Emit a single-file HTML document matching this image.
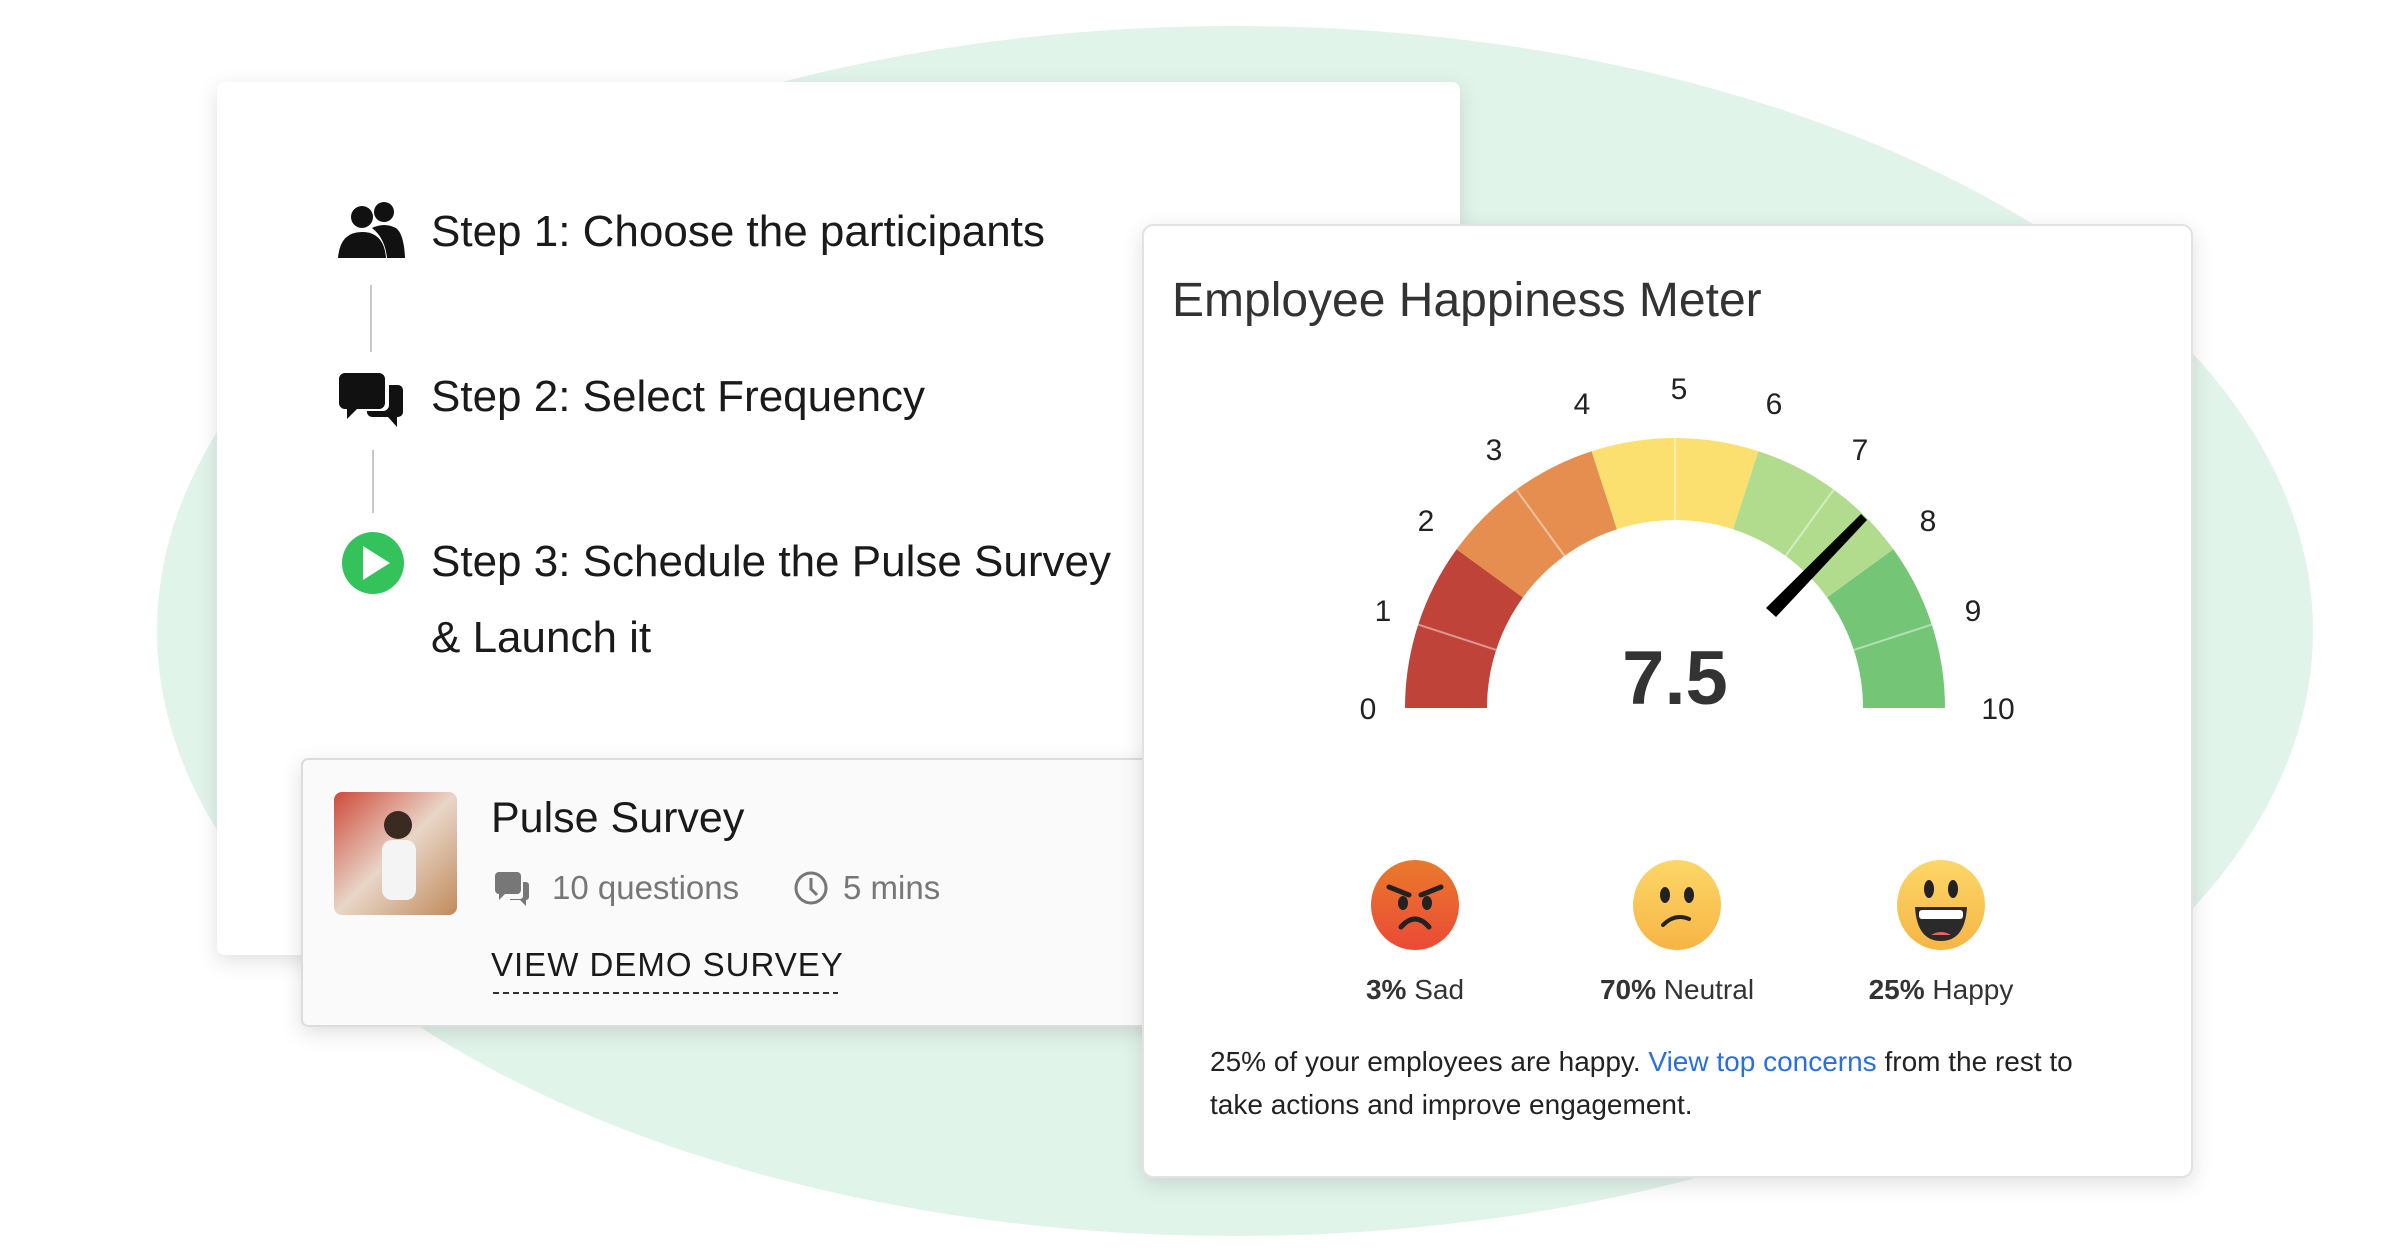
<!DOCTYPE html>
<html><head><meta charset="utf-8"><style>
html,body{margin:0;padding:0;background:#fff;}
svg{display:block;font-family:"Liberation Sans",sans-serif;}
</style></head><body>
<svg width="2400" height="1256" viewBox="0 0 2400 1256" xmlns="http://www.w3.org/2000/svg">
<defs>
<filter id="sh" x="-10%" y="-10%" width="120%" height="125%"><feDropShadow dx="0" dy="6" stdDeviation="10" flood-color="#000" flood-opacity="0.12"/></filter>
<linearGradient id="gr" x1="0" y1="0" x2="0" y2="1"><stop offset="0" stop-color="#ea7a2c"/><stop offset="1" stop-color="#ea4a36"/></linearGradient>
<linearGradient id="gy" x1="0" y1="0" x2="0" y2="1"><stop offset="0" stop-color="#fcd768"/><stop offset="1" stop-color="#f6b545"/></linearGradient>
<linearGradient id="ph" x1="0" y1="0" x2="1" y2="1"><stop offset="0" stop-color="#d04a3a"/><stop offset="0.5" stop-color="#e8d6c8"/><stop offset="1" stop-color="#c08a5a"/></linearGradient>
</defs>
<rect width="2400" height="1256" fill="#fff"/>
<ellipse cx="1235" cy="631" rx="1078" ry="605" fill="#e1f4ea"/>

<!-- left card -->
<rect x="217" y="82" width="1243" height="873" rx="8" fill="#fff" filter="url(#sh)"/>
<!-- step icons -->
<g fill="#111">
<circle cx="362" cy="217" r="11"/><circle cx="384" cy="212" r="10"/>
<path d="M338 258 q2-26 24-26 q22 0 24 26z"/><path d="M372 228 q12-6 24 0 q8 6 9 30 h-18 q-2-20 -15-30z"/>
<path d="M345 373 h34 a6 6 0 0 1 6 6 v24 a6 6 0 0 1 -6 6 h-22 l-10 10 v-10 h-2 a6 6 0 0 1 -6 -6 v-24 a6 6 0 0 1 6 -6z"/>
<path d="M389 385 h9 a5 5 0 0 1 5 5 v22 a5 5 0 0 1 -5 5 h-1 v10 l-9 -10 h-16 a5 5 0 0 1 -5 -5 v-1 h16 a6 6 0 0 0 6 -6z"/>
</g>
<circle cx="373" cy="563" r="31" fill="#33c35a"/>
<path d="M363 546 L390 563 L363 580z" fill="#fff"/>
<line x1="371" y1="285" x2="371" y2="352" stroke="#c8c8c8" stroke-width="2"/>
<line x1="373" y1="450" x2="373" y2="513" stroke="#c8c8c8" stroke-width="2"/>
<g font-size="44" fill="#1a1a1a">
<text x="431" y="246">Step 1: Choose the participants</text>
<text x="431" y="411">Step 2: Select Frequency</text>
<text x="431" y="576">Step 3: Schedule the Pulse Survey</text>
<text x="431" y="652">&amp; Launch it</text>
</g>

<!-- pulse card -->
<rect x="302" y="759" width="900" height="267" rx="6" fill="#fafafa" stroke="#dcdcdc" stroke-width="2" filter="url(#sh)"/>
<rect x="334" y="792" width="123" height="123" rx="8" fill="url(#ph)"/>
<circle cx="398" cy="825" r="14" fill="#3a2a22"/><rect x="382" y="840" width="34" height="60" rx="10" fill="#f4f4f4"/>
<text x="491" y="832" font-size="43" fill="#1a1a1a">Pulse Survey</text>
<path d="M495 872 h22 a4 4 0 0 1 4 4 v14 a4 4 0 0 1 -4 4 h-12 l-6 6 v-6 a4 4 0 0 1 -4 -4 v-14 a4 4 0 0 1 4 -4z M523 882 h3 a3 3 0 0 1 3 3 v12 a3 3 0 0 1 -3 3 v6 l-6 -6 h-10 v-1 h10 a3 3 0 0 0 3 -3z" fill="#777"/>
<text x="552" y="899" font-size="33" fill="#777">10 questions</text>
<circle cx="811" cy="888" r="15" fill="none" stroke="#777" stroke-width="3"/>
<path d="M811 878 v11 l6 6" stroke="#777" stroke-width="3" fill="none"/>
<text x="843" y="899" font-size="33" fill="#777">5 mins</text>
<text x="491" y="976" font-size="33" fill="#1a1a1a" letter-spacing="1">VIEW DEMO SURVEY</text>
<line x1="493" y1="993" x2="838" y2="993" stroke="#333" stroke-width="2" stroke-dasharray="6 4"/>

<!-- right card -->
<rect x="1143" y="225" width="1049" height="952" rx="10" fill="#fff" stroke="#e2e2e2" stroke-width="2" filter="url(#sh)"/>
<text x="1172" y="316" font-size="48" fill="#333">Employee Happiness Meter</text>

<g id="gauge"></g>
<g transform="translate(1675,708)">
<path d="M-270 0 A270 270 0 0 1 -218.4 -158.7 L-152.1 -110.5 A188 188 0 0 0 -188 0z" fill="#c0433a"/>
<path d="M-218.4 -158.7 A270 270 0 0 1 -83.4 -256.8 L-58.1 -178.8 A188 188 0 0 0 -152.1 -110.5z" fill="#e68e50"/>
<path d="M-83.4 -256.8 A270 270 0 0 1 83.4 -256.8 L58.1 -178.8 A188 188 0 0 0 -58.1 -178.8z" fill="#fbe06f"/>
<path d="M83.4 -256.8 A270 270 0 0 1 218.4 -158.7 L152.1 -110.5 A188 188 0 0 0 58.1 -178.8z" fill="#b1dc8e"/>
<path d="M218.4 -158.7 A270 270 0 0 1 270 0 L188 0 A188 188 0 0 0 152.1 -110.5z" fill="#74c676"/>
<g stroke="#fff" stroke-opacity="0.45" stroke-width="2">
<line x1="-178.8" y1="-58.1" x2="-256.8" y2="-83.4"/>
<line x1="-110.5" y1="-152.1" x2="-158.7" y2="-218.4"/>
<line x1="0" y1="-188" x2="0" y2="-270"/>
<line x1="110.5" y1="-152.1" x2="158.7" y2="-218.4"/>
<line x1="178.8" y1="-58.1" x2="256.8" y2="-83.4"/>
</g>
<path d="M91 -100 L186 -194 L192 -188 L101 -91z" fill="#000"/>
<text x="0" y="0" font-size="76" font-weight="bold" fill="#333" text-anchor="middle" dy="-4">7.5</text>
</g>
<g font-size="30" fill="#222" text-anchor="middle">
<text x="1368" y="719">0</text><text x="1383" y="621">1</text><text x="1426" y="531">2</text>
<text x="1494" y="460">3</text><text x="1582" y="414">4</text><text x="1679" y="399">5</text>
<text x="1774" y="414">6</text><text x="1860" y="460">7</text><text x="1928" y="531">8</text>
<text x="1973" y="621">9</text><text x="1998" y="719">10</text>
</g>

<!-- emojis -->
<g transform="translate(1415,905)">
<ellipse rx="44" ry="45" fill="url(#gr)"/>
<path d="M-26 -18 l20 8 M26 -18 l-20 8" stroke="#222" stroke-width="5" stroke-linecap="round"/>
<ellipse cx="-12" cy="-2" rx="5" ry="7" fill="#222"/><ellipse cx="12" cy="-2" rx="5" ry="7" fill="#222"/>
<path d="M-14 22 q14 -16 28 0" stroke="#222" stroke-width="5" fill="none" stroke-linecap="round"/>
</g>
<g transform="translate(1677,905)">
<ellipse rx="44" ry="45" fill="url(#gy)"/>
<ellipse cx="-12" cy="-10" rx="5" ry="8" fill="#222"/><ellipse cx="12" cy="-10" rx="5" ry="8" fill="#222"/>
<path d="M-14 20 q12 -12 26 -6" stroke="#222" stroke-width="4" fill="none" stroke-linecap="round"/>
</g>
<g transform="translate(1941,905)">
<ellipse rx="44" ry="45" fill="url(#gy)"/>
<ellipse cx="-12" cy="-16" rx="5" ry="9" fill="#222"/><ellipse cx="12" cy="-16" rx="5" ry="9" fill="#222"/>
<path d="M-26 2 h52 q-2 34 -26 34 q-24 0 -26 -34z" fill="#2a2a2a"/>
<rect x="-22" y="5" width="44" height="9" rx="3" fill="#fff"/>
<path d="M-10 30 q10 -6 20 0" fill="#e5695a"/>
</g>
<g font-size="28" fill="#333" text-anchor="middle">
<text x="1415" y="999"><tspan font-weight="bold">3%</tspan> Sad</text>
<text x="1677" y="999"><tspan font-weight="bold">70%</tspan> Neutral</text>
<text x="1941" y="999"><tspan font-weight="bold">25%</tspan> Happy</text>
</g>
<g font-size="28" fill="#222">
<text x="1210" y="1071">25% of your employees are happy. <tspan fill="#2a6fe0">View top concerns</tspan> from the rest to</text>
<text x="1210" y="1114">take actions and improve engagement.</text>
</g>
</svg>
</body></html>
